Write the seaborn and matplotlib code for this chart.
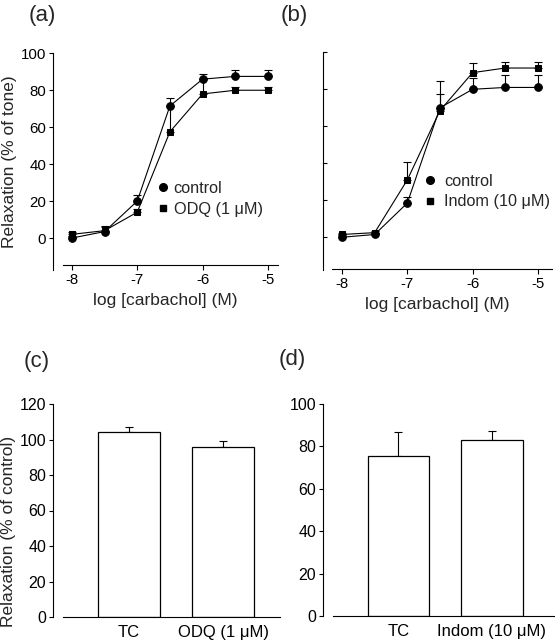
import matplotlib
matplotlib.use("Agg")
import matplotlib.pyplot as plt
from matplotlib.lines import Line2D
import seaborn as sns
import pandas as pd
import numpy as np

# ---------------- data ----------------
log_conc = [-8, -7.5, -7, -6.5, -6, -5.5, -5]

a_control = [0, 3.5, 20, 71.5, 86, 87.5, 87.5]
a_control_err = [1, 3, 3.5, 4.5, 3, 3.5, 3.5]
a_odq = [2, 4, 14, 57.5, 78, 80, 80]
a_odq_err = [1, 2, 1.5, 14, 8, 1.5, 1.5]

b_control = [0, 1.5, 18.5, 70, 80, 81, 81]
b_control_err = [1, 1, 3, 7.5, 6, 6.5, 6.5]
b_indom = [1.5, 2.5, 31, 68.5, 89, 91.5, 91.5]
b_indom_err = [1, 1, 9.5, 16, 5, 3, 3]

c_groups = ["TC", "ODQ (1 μM)"]
c_vals = [104, 95.5]
c_err = [3, 3.5]

d_groups = ["TC", "Indom (10 μM)"]
d_vals = [75.5, 83]
d_err = [11.5, 4.5]

# ---------------- style ----------------
FS_LAB = 12.5     # axis labels
FS_TICK_A = 10.8  # tick labels on curve panels
FS_TICK_C = 11.5  # tick labels on bar panels
FS_LEG = 11.7
sns.set_style("ticks")
plt.rcParams["font.family"] = ["Liberation Sans", "DejaVu Sans"]
plt.rcParams["axes.linewidth"] = 0.8
plt.rcParams["axes.edgecolor"] = "black"
plt.rcParams["xtick.color"] = "black"
plt.rcParams["ytick.color"] = "black"

W, H = 555, 640
fig = plt.figure(figsize=(W / 100, H / 100), dpi=100)


def px_axes(left, top, right, bottom):
    return fig.add_axes([left / W, (H - bottom) / H, (right - left) / W, (bottom - top) / H])


def curve_panel(ax, s1, e1, s2, e2):
    for y, e, m, ms in [(s1, e1, "o", 5.5), (s2, e2, "s", 4.5)]:
        df = pd.DataFrame({"x": log_conc, "y": y})
        sns.lineplot(data=df, x="x", y="y", ax=ax, color="black", linewidth=0.8,
                     marker=m, markersize=ms, markeredgecolor="black",
                     markerfacecolor="black", legend=False)
        ax.errorbar(log_conc, y, yerr=[np.zeros(len(e)), e], fmt="none",
                    ecolor="black", elinewidth=0.8, capsize=2.6, capthick=0.8, zorder=1)
    ax.set_xticks([-8, -7, -6, -5])
    ax.set_xticklabels(["-8", "-7", "-6", "-5"])
    ax.set_yticks([0, 20, 40, 60, 80, 100])
    ax.set_xlabel("log [carbachol] (M)", fontsize=FS_LAB, labelpad=4)
    ax.set_ylabel("")
    for s in ["top", "right"]:
        ax.spines[s].set_visible(False)
    ax.tick_params(axis="x", length=3.5, width=0.8, pad=2.5, labelsize=FS_TICK_A)
    ax.tick_params(axis="y", length=3, width=0.8, pad=2, labelsize=FS_TICK_A)
    handles = [Line2D([], [], marker="o", color="black", linestyle="none", markersize=5.5),
               Line2D([], [], marker="s", color="black", linestyle="none", markersize=4.5)]
    return handles


# ---- (a)
ax_a = px_axes(53, 53.3, 278, 270)
h = curve_panel(ax_a, a_control, a_control_err, a_odq, a_odq_err)
ax_a.set_xlim(-8.29, -4.845)
ax_a.set_ylim(-17.3, 100)
ax_a.spines["bottom"].set_position(("data", -14.4))
ax_a.spines["bottom"].set_bounds(-8.14, -4.845)
ax_a.set_ylabel("Relaxation (% of tone)", fontsize=FS_LAB, labelpad=3)
ax_a.legend(h, ["control", "ODQ (1 μM)"], loc="upper left", bbox_to_anchor=(155 / W, 1 - 181 / H),
            bbox_transform=fig.transFigure, frameon=False, handlelength=1.0,
            handletextpad=0.15, labelspacing=0.38, borderpad=0, borderaxespad=0, fontsize=FS_LEG)

# ---- (b)
ax_b = px_axes(322.7, 52.3, 552, 270)
h = curve_panel(ax_b, b_control, b_control_err, b_indom, b_indom_err)
ax_b.set_xlim(-8.296, -4.784)
ax_b.set_ylim(-17.7, 100)
ax_b.spines["bottom"].set_position(("data", -17.2))
ax_b.spines["bottom"].set_bounds(-8.15, -4.784)
ax_b.tick_params(axis="y", direction="in", labelleft=False)
ax_b.legend(h, ["control", "Indom (10 μM)"], loc="upper left", bbox_to_anchor=(422 / W, 1 - 174 / H),
            bbox_transform=fig.transFigure, frameon=False, handlelength=1.0,
            handletextpad=0.35, labelspacing=0.32, borderpad=0, borderaxespad=0, fontsize=FS_LEG)


# ---- bar panels
def bar_panel(ax, groups, vals, errs, ymax, yticks):
    df = pd.DataFrame({"g": groups, "v": vals})
    sns.barplot(data=df, x="g", y="v", ax=ax, color="white", edgecolor="black",
                linewidth=0.9, width=0.66, errorbar=None, saturation=1)
    ax.errorbar(range(len(vals)), vals, yerr=[np.zeros(len(errs)), errs], fmt="none",
                ecolor="black", elinewidth=0.8, capsize=2.6, capthick=0.8, zorder=0)
    ax.set_ylim(0, ymax)
    ax.set_yticks(yticks)
    ax.set_xlabel("")
    ax.set_ylabel("")
    for s in ["top", "right"]:
        ax.spines[s].set_visible(False)
    ax.tick_params(axis="x", length=0, pad=6, labelsize=12)
    ax.tick_params(axis="y", length=3, width=0.8, pad=2, labelsize=FS_TICK_C)


ax_c = px_axes(53, 404, 280, 617)
bar_panel(ax_c, c_groups, c_vals, c_err, 120, [0, 20, 40, 60, 80, 100, 120])
ax_c.set_xlim(-0.809, 1.606)
ax_c.spines["bottom"].set_bounds(-0.70, 1.606)
ax_c.set_ylabel("Relaxation (% of control)", fontsize=FS_LAB)
ax_c.yaxis.set_label_coords(-0.165, 0.40)

ax_d = px_axes(323, 404, 555, 616)
bar_panel(ax_d, d_groups, d_vals, d_err, 100, [0, 20, 40, 60, 80, 100])
ax_d.set_xlim(-0.807, 1.674)
ax_d.spines["bottom"].set_bounds(-0.70, 1.674)

# ---- panel labels
for txt, x, y in [("(a)", 29, 15), ("(b)", 281, 15), ("(c)", 24, 362), ("(d)", 279, 359)]:
    fig.text(x / W, 1 - y / H, txt, fontsize=16, ha="left", va="center")

fig.savefig("out.png", dpi=100)
